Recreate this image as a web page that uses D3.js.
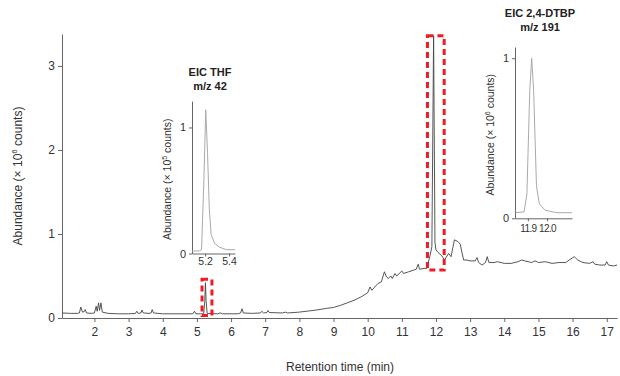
<!DOCTYPE html>
<html>
<head>
<meta charset="utf-8">
<script src="https://cdn.jsdelivr.net/npm/d3@7"></script>
<style>
  body { margin: 0; background: #fff; }
  svg { font-family: "Liberation Sans Narrow", "Liberation Sans", Arial, sans-serif; }
  .tick text { fill: #333; }
  .domain, .tick line { stroke: #666; }
</style>
</head>
<body>
<svg width="620" height="376"></svg>
<script>
// main chromatogram (time in min, abundance in 10^6 counts)
const mainTime = [1.05,1.3,1.5,1.56,1.6,1.65,1.7,1.73,1.77,1.9,2.0,2.05,2.08,2.12,2.15,2.19,2.23,2.4,2.7,3.0,
  3.2,3.24,3.28,3.36,3.39,3.43,3.6,3.66,3.69,3.73,4.0,4.5,4.88,4.93,4.97,5.1,5.2,5.23,5.25,5.27,5.3,
  5.6,5.7,5.75,6.2,6.28,6.32,6.36,6.6,6.86,6.9,6.95,7.05,7.08,7.12,7.5,7.6,7.65,8.0,8.3,8.5,8.8,9.0,
  9.2,9.4,9.6,9.8,10.0,10.07,10.12,10.3,10.4,10.49,10.55,10.6,10.68,10.72,10.8,10.85,11.0,11.05,11.2,
  11.35,11.42,11.48,11.52,11.65,11.73,11.83,11.88,11.93,11.97,12.0,12.06,12.17,12.25,12.37,12.44,12.54,
  12.64,12.71,12.76,12.81,12.9,13.0,13.15,13.2,13.25,13.35,13.45,13.5,13.55,13.7,13.8,14.0,14.2,14.4,
  14.5,14.6,14.8,14.9,15.0,15.2,15.4,15.6,15.8,15.9,16.05,16.15,16.3,16.5,16.6,16.65,16.8,16.95,17.0,
  17.05,17.2,17.3];
const mainAbund = [0.06,0.055,0.055,0.06,0.13,0.07,0.075,0.10,0.06,0.055,0.06,0.14,0.08,0.18,0.09,0.18,0.07,0.055,0.05,0.05,
  0.055,0.08,0.055,0.06,0.095,0.06,0.055,0.06,0.10,0.06,0.05,0.05,0.05,0.08,0.05,0.05,0.05,0.2,0.42,0.2,0.055,
  0.05,0.06,0.05,0.05,0.06,0.11,0.06,0.055,0.06,0.08,0.06,0.065,0.09,0.065,0.06,0.07,0.06,0.07,0.085,0.095,0.115,0.125,
  0.15,0.18,0.21,0.25,0.30,0.37,0.33,0.41,0.43,0.55,0.49,0.47,0.50,0.47,0.53,0.50,0.56,0.53,0.55,
  0.57,0.58,0.64,0.58,0.59,0.59,0.75,0.85,3.36,0.9,0.81,0.78,0.74,0.69,0.77,0.73,0.93,
  0.91,0.88,0.78,0.69,0.69,0.68,0.68,0.72,0.66,0.63,0.66,0.73,0.66,0.66,0.67,0.65,0.65,0.67,
  0.69,0.68,0.66,0.68,0.66,0.67,0.65,0.66,0.66,0.69,0.73,0.69,0.66,0.65,0.67,0.64,0.63,0.63,0.67,
  0.63,0.62,0.63];
const mainXTicks = [2,3,4,5,6,7,8,9,10,11,12,13,14,15,16,17];
const mainYTicks = [0,1,2,3];

// EIC THF m/z 42 (abundance in 10^5 counts)
const thfTime = [5.09,5.15,5.17,5.19,5.205,5.22,5.235,5.25,5.28,5.32,5.38,5.45];
const thfAbund = [0.02,0.02,0.03,0.6,1.14,0.8,0.35,0.15,0.08,0.05,0.03,0.03];
const thfXTicks = [5.2,5.4];
const thfYTicks = [0,1];

// EIC 2,4-DTBP m/z 191 (abundance in 10^6 counts)
const dtbpTime = [11.835,11.88,11.895,11.91,11.92,11.93,11.945,11.96,11.99,12.05,12.13];
const dtbpAbund = [0.035,0.04,0.15,0.8,1.0,0.8,0.2,0.09,0.05,0.035,0.035];
const dtbpXTicks = [11.9,12.0];
const dtbpYTicks = [0,1];

// highlighted regions [t0, t1, a0, a1] in main units
const boxTHF = [5.15, 5.44, 0.03, 0.46];
const boxDTBP = [11.75, 12.24, 0.57, 3.36];

const svg = d3.select('svg');

const x = d3.scaleLinear().domain([1.05, 17.3]).range([62, 617]);
const y = d3.scaleLinear().domain([0, 3.38]).range([318, 34]);

svg.append('g')
  .attr('transform', 'translate(0,318)')
  .call(d3.axisBottom(x).tickValues(mainXTicks).tickFormat(d3.format('d')).tickSize(4).tickSizeOuter(0))
  .call(g => g.selectAll('text').attr('font-size', 12).attr('dy', '0.9em'));
svg.append('g')
  .attr('transform', 'translate(62,0)')
  .call(d3.axisLeft(y).tickValues(mainYTicks).tickFormat(d3.format('d')).tickSize(4).tickSizeOuter(0))
  .call(g => g.selectAll('text').attr('font-size', 12));

const line = d3.line().x(d => x(d[0])).y(d => y(d[1]));
svg.append('path')
  .datum(d3.zip(mainTime, mainAbund))
  .attr('d', line)
  .attr('fill', 'none')
  .attr('stroke', '#444')
  .attr('stroke-width', 0.9)
  .attr('stroke-linejoin', 'round');

// red dashed boxes
[boxTHF, boxDTBP].forEach(b => {
  svg.append('rect')
    .attr('x', x(b[0])).attr('y', y(b[3]))
    .attr('width', x(b[1]) - x(b[0])).attr('height', y(b[2]) - y(b[3]))
    .attr('fill', 'none')
    .attr('stroke', '#ee1c24')
    .attr('stroke-width', 3)
    .attr('stroke-dasharray', '6,4');
});

svg.append('text')
  .attr('transform', 'translate(22,176) rotate(-90)')
  .attr('text-anchor', 'middle')
  .attr('font-size', 12).attr('fill', '#333')
  .html('Abundance (× 10<tspan dy="-5" font-size="8">6</tspan><tspan dy="5"> counts)</tspan>');
svg.append('text')
  .attr('x', 340).attr('y', 371)
  .attr('text-anchor', 'middle')
  .attr('font-size', 12).attr('fill', '#333')
  .text('Retention time (min)');

// inset helper
function inset(opts) {
  const ix = d3.scaleLinear().domain(opts.xDomain).range([opts.left, opts.right]);
  const iy = d3.scaleLinear().domain(opts.yDomain).range([opts.bottom, opts.top]);
  const g = svg.append('g');
  g.append('g')
    .attr('transform', `translate(0,${opts.bottom})`)
    .call(d3.axisBottom(ix).tickValues(opts.xTicks).tickFormat(d3.format('.1f')).tickSize(3).tickSizeOuter(0))
    .call(a => a.selectAll('text').attr('font-size', opts.labelSize).attr('dy', opts.labelDy)
      .attr('letter-spacing', opts.labelSpacing));
  g.append('g')
    .attr('transform', `translate(${opts.left},0)`)
    .call(d3.axisLeft(iy).tickValues(opts.yTicks).tickFormat(d3.format('d')).tickSize(3).tickSizeOuter(0))
    .call(a => a.selectAll('text').attr('font-size', 11));
  g.append('path')
    .datum(d3.zip(opts.time, opts.abund))
    .attr('d', d3.line().x(d => ix(d[0])).y(d => iy(d[1])))
    .attr('fill', 'none')
    .attr('stroke', '#aaa')
    .attr('stroke-width', 1);
  g.append('text')
    .attr('transform', `translate(${opts.left - 21},${(opts.top + opts.bottom) / 2 + 2}) rotate(-90)`)
    .attr('text-anchor', 'middle')
    .attr('font-size', 10.5).attr('fill', '#333')
    .html(`Abundance (× 10<tspan dy="-4" font-size="7">${opts.exp}</tspan><tspan dy="4"> counts)</tspan>`);
  opts.title.forEach((t, i) => {
    g.append('text')
      .attr('x', opts.titleX).attr('y', opts.titleY + i * 14)
      .attr('text-anchor', 'middle')
      .attr('font-size', 11).attr('font-weight', 'bold').attr('fill', '#222')
      .text(t);
  });
}

inset({
  xDomain: [5.09, 5.45], yDomain: [0, 1.21],
  left: 192, right: 235, top: 101, bottom: 253.5,
  labelDy: '0.5em', labelSize: 10.5, labelSpacing: 0,
  time: thfTime, abund: thfAbund, xTicks: thfXTicks, yTicks: thfYTicks, exp: 5,
  title: ['EIC THF', 'm/z 42'], titleX: 210, titleY: 76
});
inset({
  xDomain: [11.833, 12.13], yDomain: [0, 1.07],
  left: 515, right: 572, top: 47, bottom: 218.3,
  labelDy: '0.75em', labelSize: 10, labelSpacing: -0.6,
  time: dtbpTime, abund: dtbpAbund, xTicks: dtbpXTicks, yTicks: dtbpYTicks, exp: 6,
  title: ['EIC 2,4-DTBP', 'm/z 191'], titleX: 540, titleY: 17
});
</script>
</body>
</html>
